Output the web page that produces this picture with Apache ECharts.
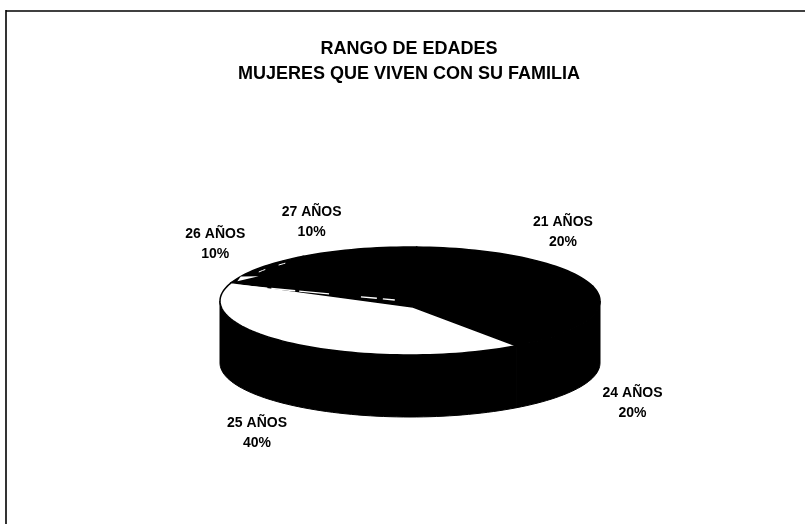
<!DOCTYPE html>
<html>
<head>
<meta charset="utf-8">
<style>html,body{margin:0;padding:0;background:#fff}#c{width:805px;height:524px}</style>
<script src="https://cdn.jsdelivr.net/npm/echarts@6/dist/echarts.min.js"></script>
</head>
<body>
<div id="c"></div>
<script>
const titleLines = ['RANGO DE EDADES', 'MUJERES QUE VIVEN CON SU FAMILIA'];
const categories = ['21 AÑOS', '24 AÑOS', '25 AÑOS', '26 AÑOS', '27 AÑOS'];
const percentages = [20, 20, 40, 10, 10];
const sliceColors = ['#000', '#000', '#fff', '#000', '#000'];

const FONT = '"Liberation Sans", Arial, sans-serif';
const CX = 410, CY = 301, RX = 190, RY = 54, DEPTH = 62, START = 2;
const APEX = [3, 6];
const labelShift = [[36, -26], [44, 84], [-36, 90], [-45, -24], [-46, -27]];
const total = percentages.reduce((a, b) => a + b, 0);

function pt(deg, k, dy) {
  const r = deg * Math.PI / 180;
  return [CX + k * RX * Math.sin(r), CY + (dy || 0) - k * RY * Math.cos(r)];
}
function arc(a, b, k, dy) {
  const out = [];
  const n = Math.max(2, Math.ceil(Math.abs(b - a) / 2));
  for (let i = 0; i <= n; i++) out.push(pt(a + (b - a) * i / n, k, dy));
  return out;
}
function startOf(i) {
  let s = 0;
  for (let j = 0; j < i; j++) s += percentages[j];
  return START + s / total * 360;
}

function renderItem(params, api) {
  const i = params.dataIndex;
  const a = startOf(i);
  const b = a + api.value(1) / total * 360;
  const children = [];
  const fa = Math.max(a, 90), fb = Math.min(b, 270);
  if (fb > fa) {
    children.push({
      type: 'polygon', z2: 1,
      shape: { points: arc(fa, fb, 1, 0).concat(arc(fb, fa, 1, DEPTH)) },
      style: { fill: '#000', stroke: '#000', lineWidth: 1 }
    });
  }
  const apex = [CX + APEX[0], CY + APEX[1]];
  children.push({
    type: 'polygon', z2: sliceColors[i] === '#fff' ? 3 : 2,
    shape: { points: [apex].concat(arc(a, b, 1, 0)) },
    style: { fill: sliceColors[i], stroke: '#000', lineWidth: 1.5 }
  });
  if (i === 3) {
    const e = pt(a, 1, 0);
    children.push({
      type: 'polyline', z2: 4,
      shape: { points: [[e[0] + 8, e[1] + 3], [apex[0] - 18, apex[1] - 7]] },
      style: { fill: null, stroke: '#fff', lineWidth: 1.4, lineDash: [28, 4, 24, 4, 30, 32, 16, 6, 12, 60] }
    });
    children.push({
      type: 'polygon', z2: 4,
      shape: { points: [pt(a + 2, 0.98, 0), pt(a + 10, 0.92, 0), pt(a + 7, 1.0, 0)] },
      style: { fill: '#fff' }
    });
    children.push({
      type: 'polyline', z2: 4,
      shape: { points: arc(a + 14, b + 6, 0.96, 0) },
      style: { fill: null, stroke: '#fff', lineWidth: 1, lineDash: [7, 14, 7, 40] }
    });
  }
  const mid = (a + b) / 2;
  const p = pt(mid, 1, 0);
  children.push({
    type: 'text', z2: 5,
    style: {
      x: p[0] + labelShift[i][0], y: p[1] + labelShift[i][1],
      text: categories[i] + '\n' + api.value(1) + '%',
      font: 'bold 14px ' + FONT, fill: '#000',
      align: 'center', verticalAlign: 'middle', lineHeight: 20
    }
  });
  return { type: 'group', children };
}

const chart = echarts.init(document.getElementById('c'), null, { renderer: 'canvas' });
chart.setOption({
  animation: false,
  backgroundColor: '#fff',
  title: {
    text: titleLines.join('\n'),
    left: 404, top: 32, textAlign: 'center',
    textStyle: { fontFamily: FONT, fontWeight: 'bold', fontSize: 18, lineHeight: 25, color: '#000' }
  },
  graphic: [
    { type: 'line', shape: { x1: 6, y1: 11, x2: 805, y2: 11 }, style: { stroke: '#000', lineWidth: 1.6 } },
    { type: 'line', shape: { x1: 6, y1: 10, x2: 6, y2: 524 }, style: { stroke: '#000', lineWidth: 1.6 } }
  ],
  series: [{
    type: 'custom',
    coordinateSystem: 'none',
    renderItem,
    encode: { value: 1 },
    data: categories.map((c, i) => [c, percentages[i]])
  }]
});
</script>
</body>
</html>
